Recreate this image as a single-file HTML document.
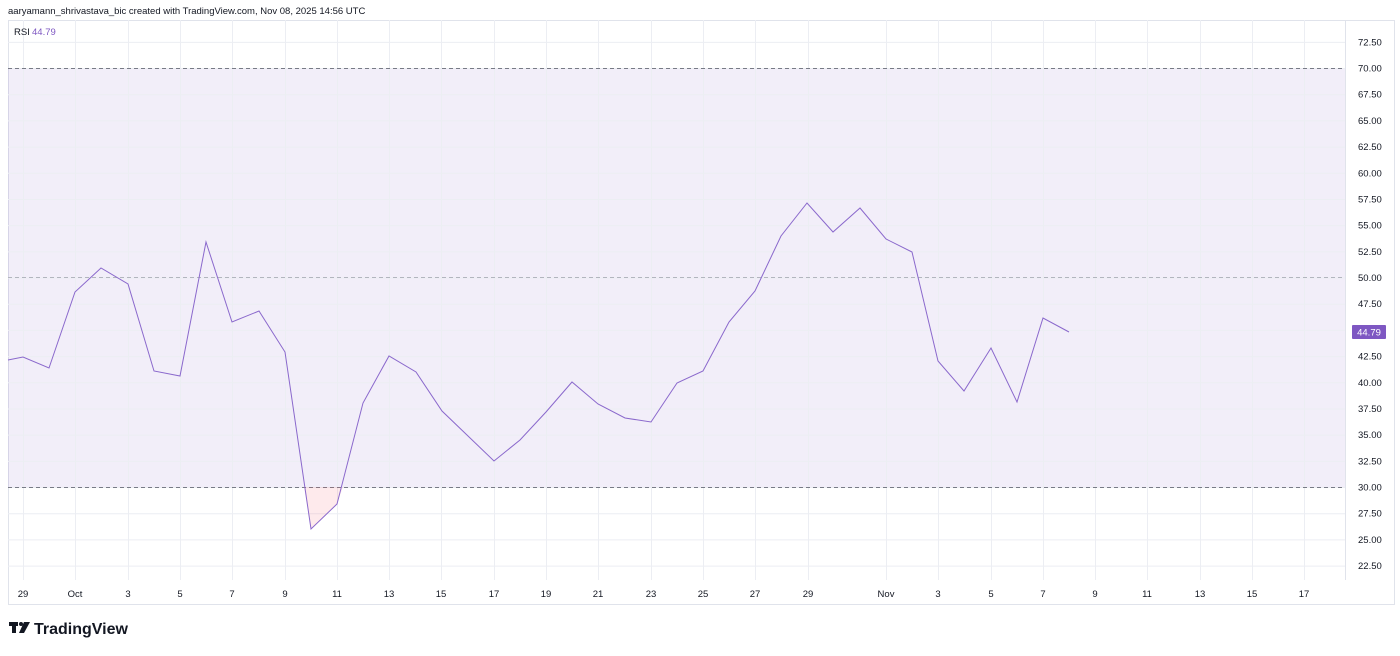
<!DOCTYPE html>
<html><head><meta charset="utf-8"><style>
body{margin:0;background:#fff;width:1400px;height:651px;overflow:hidden;font-family:"Liberation Sans",sans-serif}
</style></head><body>
<svg width="1400" height="651" xmlns="http://www.w3.org/2000/svg" font-family="Liberation Sans, sans-serif">
<text x="8" y="14" font-size="9.5" fill="#131722">aaryamann_shrivastava_bic created with TradingView.com, Nov 08, 2025 14:56 UTC</text>
<rect x="8.5" y="20.5" width="1386" height="584" fill="none" stroke="#e0e3eb"/>
<line x1="1345.5" y1="20" x2="1345.5" y2="580" stroke="#e0e3eb"/>
<rect x="8" y="68" width="1337" height="419" fill="#7e57c2" fill-opacity="0.1"/>
<g id="grid" stroke="#eceef3" stroke-width="1"></g>
<line x1="8" y1="68.5" x2="1345" y2="68.5" stroke="#787b86" stroke-dasharray="4,3"/>
<line x1="8" y1="277.5" x2="1345" y2="277.5" stroke="#b2b5be" stroke-dasharray="4,3"/>
<line x1="8" y1="487.5" x2="1345" y2="487.5" stroke="#787b86" stroke-dasharray="4,3"/>
<polygon points="304,487 311,529 337,504 343,487" fill="#f7525f" fill-opacity="0.12"/>
<polyline fill="none" stroke="#8a68cc" stroke-width="1" points="8,360 23,357 49,368 75,292 101,268 128,284 154,371 180,376 206,242 232,322 259,311 285,352 311,529 337,504 363,403 389,356 416,372 442,411 468,436 494,461 520,440 546,412 572,382 598,404 625,418 651,422 677,383 703,371 729,322 755,291 781,236 807,203 833,232 860,208 886,239 912,252 938,361 964,391 991,348 1017,402 1043,318 1069,332"/>
<text x="14" y="35" font-size="9.5" fill="#131722">RSI</text>
<text x="32" y="35" font-size="9.5" fill="#7e57c2">44.79</text>
<g id="ylab" font-size="9.5" fill="#131722"></g>
<rect x="1352" y="325" width="34" height="14" rx="1" fill="#7e57c2"/>
<text x="1369" y="335.5" font-size="9.5" fill="#fff" text-anchor="middle">44.79</text>
<g id="xlab" font-size="9.5" fill="#131722" text-anchor="middle"></g>
<g fill="#131722"><rect x="9" y="622" width="9" height="4"/><rect x="12" y="622" width="4" height="11"/><circle cx="21" cy="624" r="2"/><polygon points="24,622 30,622 24,633 19,633"/></g>
<text x="34" y="634" font-size="16" font-weight="bold" fill="#131722">TradingView</text>
</svg>
<script>
var ns="http://www.w3.org/2000/svg",g=document.getElementById('grid'),yl=document.getElementById('ylab'),xl=document.getElementById('xlab');
function el(p,t,a,txt){var e=document.createElementNS(ns,t);for(var k in a)e.setAttribute(k,a[k]);if(txt)e.textContent=txt;p.appendChild(e);}
for(var v=22.5;v<=72.5;v+=2.5){var y=487-(v-30)*10.475;el(g,'line',{x1:8,x2:1345,y1:y+.5,y2:y+.5});el(yl,'text',{x:1358,y:y+3.5},v.toFixed(2));}
var labs=[['29',0],['Oct',2]];
for(var n=3;n<=29;n+=2)labs.push([''+n,n+1]);
labs.push(['Nov',33]);
for(var n=3;n<=17;n+=2)labs.push([''+n,32+n]);
for(var i=0;i<labs.length;i++){var x=Math.round(23+26.15*labs[i][1]);el(g,'line',{x1:x+.5,x2:x+.5,y1:20,y2:580});el(xl,'text',{x:x,y:597},labs[i][0]);}
</script>
</body></html>
